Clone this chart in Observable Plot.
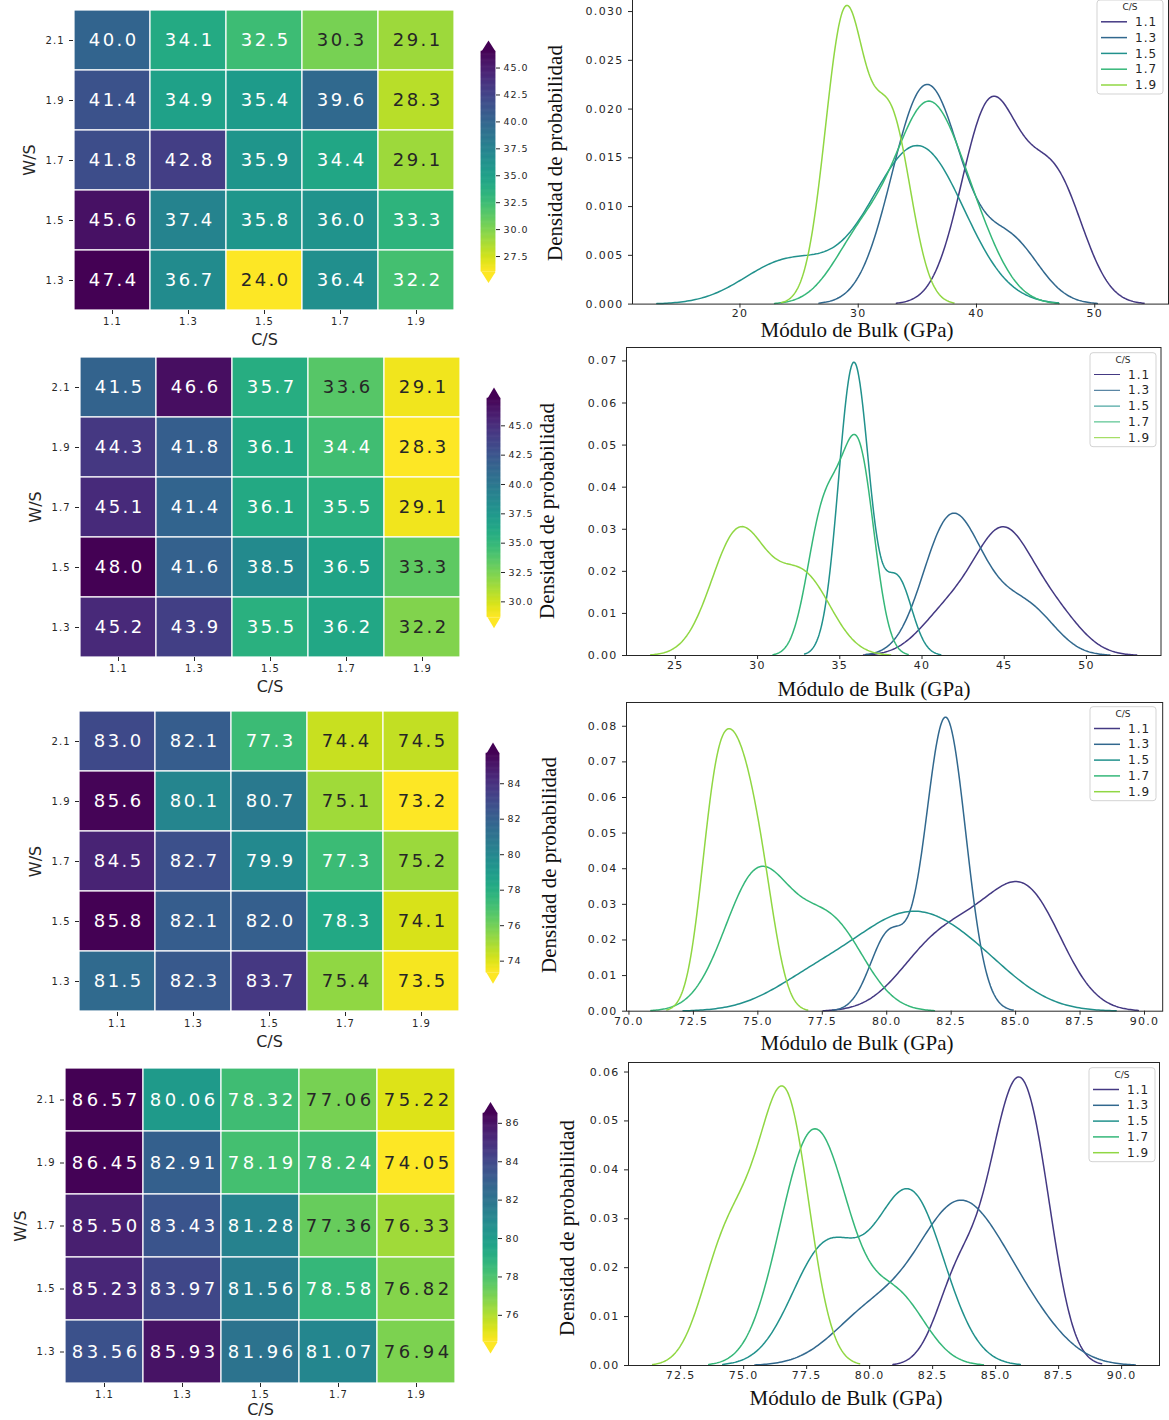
<!DOCTYPE html>
<html><head><meta charset="utf-8">
<script src="https://cdn.jsdelivr.net/npm/d3@7"></script>
<script src="https://cdn.jsdelivr.net/npm/@observablehq/plot@0.6"></script>
<style>
body{margin:0;background:#fff;}
#fig{position:relative;width:1169px;height:1420px;overflow:hidden;background:#fff;}
</style></head><body><div id="fig"></div>
<script>
// ---------------- DATA ----------------
const CS = ["1.1","1.3","1.5","1.7","1.9"];          // columns (C/S)
const WS = ["2.1","1.9","1.7","1.5","1.3"];          // rows (W/S), top to bottom
// Bulk modulus (GPa), rows W/S 2.1 -> 1.3, columns C/S 1.1 -> 1.9
const bulk1 = [[40.0,34.1,32.5,30.3,29.1],[41.4,34.9,35.4,39.6,28.3],[41.8,42.8,35.9,34.4,29.1],[45.6,37.4,35.8,36.0,33.3],[47.4,36.7,24.0,36.4,32.2]];
const bulk2 = [[41.5,46.6,35.7,33.6,29.1],[44.3,41.8,36.1,34.4,28.3],[45.1,41.4,36.1,35.5,29.1],[48.0,41.6,38.5,36.5,33.3],[45.2,43.9,35.5,36.2,32.2]];
const bulk3 = [[83.0,82.1,77.3,74.4,74.5],[85.6,80.1,80.7,75.1,73.2],[84.5,82.7,79.9,77.3,75.2],[85.8,82.1,82.0,78.3,74.1],[81.5,82.3,83.7,75.4,73.5]];
const bulk4 = [[86.57,80.06,78.32,77.06,75.22],[86.45,82.91,78.19,78.24,74.05],[85.50,83.43,81.28,77.36,76.33],[85.23,83.97,81.56,78.58,76.82],[83.56,85.93,81.96,81.07,76.94]];
// colorbar ticks
const cbTicks1 = [27.5,30,32.5,35,37.5,40,42.5,45];
const cbTicks2 = [30,32.5,35,37.5,40,42.5,45];
const cbTicks3 = [74,76,78,80,82,84];
const cbTicks4 = [76,78,80,82,84,86];
// density plot ticks
const kdeX1 = [20,30,40,50];
const kdeY1 = [0,0.005,0.010,0.015,0.020,0.025,0.030];
const kdeX2 = [25,30,35,40,45,50];
const kdeY2 = [0,0.01,0.02,0.03,0.04,0.05,0.06,0.07];
const kdeX3 = [70,72.5,75,77.5,80,82.5,85,87.5,90];
const kdeY3 = [0,0.01,0.02,0.03,0.04,0.05,0.06,0.07,0.08];
const kdeX4 = [72.5,75,77.5,80,82.5,85,87.5,90];
const kdeY4 = [0,0.01,0.02,0.03,0.04,0.05,0.06];
const xTitle = "Módulo de Bulk (GPa)";
const yTitle = "Densidad de probabilidad";

// ---------------- CONFIG (formats / layout) ----------------
const panels = [
  {M:bulk1, annot:".1f", cbT:cbTicks1, cbF:".1f", kx:kdeX1, ky:kdeY1, kxF:"d", kyF:".3f"},
  {M:bulk2, annot:".1f", cbT:cbTicks2, cbF:".1f", kx:kdeX2, ky:kdeY2, kxF:"d", kyF:".2f"},
  {M:bulk3, annot:".1f", cbT:cbTicks3, cbF:"d",   kx:kdeX3, ky:kdeY3, kxF:".1f", kyF:".2f"},
  {M:bulk4, annot:".2f", cbT:cbTicks4, cbF:"d",   kx:kdeX4, ky:kdeY4, kxF:".1f", kyF:".2f"}
];
const layout = [
 {hm:{l:73,r:455,t:9,b:310,ls:2.5,cs:29}, cb:{l:481,w:14,t:50.7,b:271.2}, kde:{l:632,r:1168,t:-9.6,b:304}, yl:{x:561.5,y:153}, xl:{x:857,y:337}, lg:{l:1097,t:0,lw:1.5}},
 {hm:{l:79,r:460,t:356,b:657,ls:2.5,cs:29}, cb:{l:487,w:13,t:397.7,b:616.5}, kde:{l:626,r:1160.5,t:347,b:655}, yl:{x:553.5,y:511}, xl:{x:874,y:696}, lg:{l:1090,t:352.7,lw:1}},
 {hm:{l:79,r:459,t:710,b:1012,ls:2.5,cs:29}, cb:{l:486,w:13,t:753.1,b:972.4}, kde:{l:625.5,r:1161.7,t:702,b:1010.7}, yl:{x:555.5,y:865}, xl:{x:857,y:1050}, lg:{l:1090,t:706.7,lw:1.5}},
 {hm:{l:64,r:456,t:1068,b:1383,ls:3.5,cs:26}, cb:{l:483,w:14,t:1112.5,b:1341}, kde:{l:627.5,r:1158.5,t:1062,b:1365}, yl:{x:573.5,y:1228}, xl:{x:846,y:1405}, lg:{l:1089,t:1067.7,lw:1.5}}
];
const SANS = "'DejaVu Sans', sans-serif";
const SERIF = "'Liberation Serif', 'Times New Roman', serif";
const INK = "#262626";
// seaborn "viridis" palette for 5 hue levels
const lineColors = CS.map((_, i) => d3.interpolateViridis((i + 1) / (CS.length + 1)));

const fig = document.getElementById("fig");
function place(el, left, top) {
  el.style.position = "absolute"; el.style.left = left + "px"; el.style.top = top + "px";
  el.style.maxWidth = "none";
  fig.appendChild(el);
}
function spacing(svg, sel, ls) { svg.querySelectorAll(sel).forEach(g => g.style.letterSpacing = ls + "px"); }

// Gaussian KDE (Scott's rule, cut = 3, 200 grid points), weighted by group share
function kde(values, weight) {
  const n = values.length;
  const bw = d3.deviation(values) * Math.pow(n, -1 / 5);
  const lo = d3.min(values) - 3 * bw, hi = d3.max(values) + 3 * bw;
  const k = 1 / (Math.sqrt(2 * Math.PI) * bw);
  return d3.range(200).map(i => {
    const x = lo + (hi - lo) * i / 199;
    return {x, y: weight * d3.mean(values, v => k * Math.exp(-0.5 * ((x - v) / bw) ** 2))};
  });
}
function relLum(c) {
  const {r, g, b} = d3.rgb(c);
  const f = x => { x /= 255; return x <= 0.03928 ? x / 12.92 : Math.pow((x + 0.055) / 1.055, 2.4); };
  return 0.2126 * f(r) + 0.7152 * f(g) + 0.0722 * f(b);
}

const overlay = d3.create("svg").attr("width", 1169).attr("height", 1420)
  .style("position", "absolute").style("left", "0px").style("top", "0px").style("pointer-events", "none");

panels.forEach((P, p) => {
  const L = layout[p], M = P.M;
  const cells = [];
  WS.forEach((ws, i) => CS.forEach((cs, j) => cells.push({ws, cs, v: M[i][j]})));
  const vals = cells.map(d => d.v).sort(d3.ascending);
  const vmin = d3.quantile(vals, 0.02), vmax = d3.quantile(vals, 0.98);
  const cmap = v => d3.interpolateViridis(1 - Math.max(0, Math.min(1, (v - vmin) / (vmax - vmin))));
  const dark = d => relLum(cmap(d.v)) > 0.408;
  const fmt = d3.format(P.annot);
  const colorScale = {type: "linear", scheme: "viridis", reverse: true, domain: [vmin, vmax], clamp: true};

  // ---- heatmap ----
  const H = L.hm, mt = 10, mb = 45, mr = 6;
  const hm = Plot.plot({
    width: H.r + mr, height: (H.b - H.t) + mt + mb,
    marginLeft: H.l, marginRight: mr, marginTop: mt, marginBottom: mb,
    style: {background: "transparent", fontFamily: SANS, color: INK, overflow: "visible"},
    x: {domain: CS, padding: 0}, y: {domain: WS, padding: 0},
    color: colorScale,
    marks: [
      Plot.cell(cells, {x: "cs", y: "ws", fill: "v", stroke: "white", strokeWidth: 1.2}),
      Plot.text(cells, {filter: d => !dark(d), x: "cs", y: "ws", text: d => fmt(d.v), fill: "white", fontSize: 18, dx: H.ls / 2}),
      Plot.text(cells, {filter: dark, x: "cs", y: "ws", text: d => fmt(d.v), fill: INK, fontSize: 18, dx: H.ls / 2}),
      Plot.axisX({tickSize: 4, tickPadding: 3, fontSize: 10, label: null}),
      Plot.axisY({tickSize: 4, tickPadding: 5, fontSize: 10, label: null}),
      Plot.text(["C/S"], {text: d => d, frameAnchor: "bottom", dy: H.cs, lineAnchor: "middle", textAnchor: "middle", fontSize: 16, fill: INK}),
      Plot.text(["W/S"], {text: d => d, frameAnchor: "left", dx: -44, rotate: -90, lineAnchor: "middle", textAnchor: "middle", fontSize: 16, fill: INK})
    ]
  });
  const tg = hm.querySelectorAll('g[aria-label="text"]');
  if (tg[0]) tg[0].style.letterSpacing = H.ls + "px";
  if (tg[1]) tg[1].style.letterSpacing = H.ls + "px";
  spacing(hm, 'g[aria-label="x-axis tick label"], g[aria-label="y-axis tick label"]', 1);
  place(hm, 0, H.t - mt);

  // ---- colorbar ----
  const C = L.cb, cmt = 20, cmb = 20, cmr = 45;
  const ext = 0.05 * (vmax - vmin);
  const steps = d3.range(256).map(i => ({y1: vmin + (vmax - vmin) * i / 256, y2: vmin + (vmax - vmin) * (i + 1) / 256}));
  const cb = Plot.plot({
    width: C.w + cmr, height: (C.b - C.t) + cmt + cmb,
    marginLeft: 0, marginRight: cmr, marginTop: cmt, marginBottom: cmb,
    style: {background: "transparent", fontFamily: SANS, color: INK, overflow: "visible"},
    x: {domain: [0, 1], axis: null}, y: {domain: [vmin, vmax]},
    color: colorScale,
    marks: [
      Plot.rect(steps, {x1: 0, x2: 1, y1: "y1", y2: "y2", fill: d => (d.y1 + d.y2) / 2, stroke: d => (d.y1 + d.y2) / 2, strokeWidth: 0.6}),
      Plot.line([{x: 0, y: vmax}, {x: 0.5, y: vmax + ext}, {x: 1, y: vmax}], {x: "x", y: "y", fill: d3.interpolateViridis(0), stroke: "none"}),
      Plot.line([{x: 0, y: vmin}, {x: 0.5, y: vmin - ext}, {x: 1, y: vmin}], {x: "x", y: "y", fill: d3.interpolateViridis(1), stroke: "none"}),
      Plot.axisY(P.cbT, {anchor: "right", tickSize: 4, tickPadding: 4, tickFormat: d3.format(P.cbF), fontSize: 9.5, label: null})
    ]
  });
  spacing(cb, 'g[aria-label="y-axis tick label"]', 1);
  place(cb, C.l, C.t - cmt);

  // ---- density curves ----
  const curves = CS.flatMap((cs, j) => kde(M.map(r => r[j]), 1 / CS.length).map(d => ({...d, cs})));
  const xlo = d3.min(curves, d => d.x), xhi = d3.max(curves, d => d.x);
  const pad = 0.05 * (xhi - xlo);
  const ymax = d3.max(curves, d => d.y);
  const K = L.kde, kmt = 20, kmb = 40, kml = 80, kmr = 10;
  const kp = Plot.plot({
    width: (K.r - K.l) + kml + kmr, height: (K.b - K.t) + kmt + kmb,
    marginLeft: kml, marginRight: kmr, marginTop: kmt, marginBottom: kmb,
    style: {background: "transparent", fontFamily: SANS, color: INK, overflow: "visible"},
    x: {domain: [xlo - pad, xhi + pad]}, y: {domain: [0, ymax * 1.05]},
    color: {domain: CS, range: lineColors},
    marks: [
      Plot.line(curves, {x: "x", y: "y", z: "cs", stroke: "cs", strokeWidth: 1.5}),
      Plot.frame({stroke: INK, strokeWidth: 1}),
      Plot.axisX(P.kx, {tickSize: 4, tickPadding: 1.5, tickFormat: d3.format(P.kxF), fontSize: 11, label: null}),
      Plot.axisY(P.ky, {tickSize: 4, tickPadding: 5, tickFormat: d3.format(P.kyF), fontSize: 11, label: null})
    ]
  });
  spacing(kp, 'g[aria-label="x-axis tick label"], g[aria-label="y-axis tick label"]', 1.3);
  place(kp, K.l - kml, K.t - kmt);

  // ---- titles ----
  overlay.append("text").attr("x", L.xl.x).attr("y", L.xl.y).attr("text-anchor", "middle")
    .attr("font-family", SERIF).attr("font-size", 21).attr("fill", "#111").text(xTitle);
  overlay.append("text").attr("transform", `translate(${L.yl.x},${L.yl.y}) rotate(-90)`).attr("text-anchor", "middle")
    .attr("font-family", SERIF).attr("font-size", 21).attr("fill", "#111").text(yTitle);

  // ---- legend ----
  const G = L.lg, lgW = 66, lgH = 94, step = 15.8;
  const lg = overlay.append("g").attr("transform", `translate(${G.l},${G.t})`);
  lg.append("rect").attr("width", lgW).attr("height", lgH).attr("rx", 3)
    .attr("fill", "white").attr("fill-opacity", 0.85).attr("stroke", "#d3d3d3");
  lg.append("text").attr("x", lgW / 2).attr("y", 7.3).attr("dy", "0.35em").attr("text-anchor", "middle")
    .attr("font-family", SANS).attr("font-size", 9).attr("fill", INK).text("C/S");
  CS.forEach((cs, i) => {
    const y = 21.8 + i * step;
    lg.append("line").attr("x1", 4).attr("x2", 30).attr("y1", y).attr("y2", y)
      .attr("stroke", lineColors[i]).attr("stroke-width", G.lw);
    lg.append("text").attr("x", 38).attr("y", y).attr("dy", "0.35em")
      .attr("font-family", SANS).attr("font-size", 12).attr("letter-spacing", 1).attr("fill", INK).text(cs);
  });
});
fig.appendChild(overlay.node());
</script></body></html>
